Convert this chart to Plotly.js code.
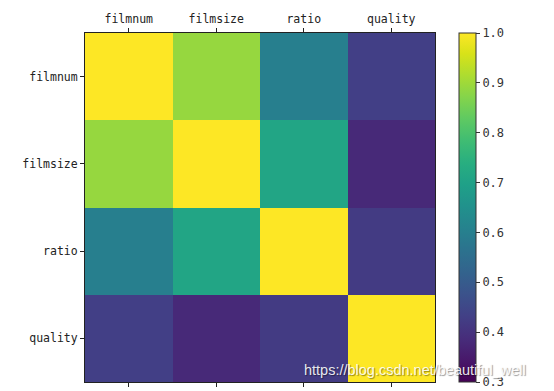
<!DOCTYPE html>
<html>
<head>
<meta charset="utf-8">
<script src="https://cdn.plot.ly/plotly-3.0.1.min.js"></script>
<style>html,body{margin:0;padding:0;background:#fff;}#chart{width:554px;height:391px;}</style>
</head>
<body>
<div id="chart"></div>
<script>
const labels = ["filmnum", "filmsize", "ratio", "quality"];
const rowFilmnum  = [1.00, 0.89, 0.60, 0.43];
const rowFilmsize = [0.89, 1.00, 0.71, 0.38];
const rowRatio    = [0.60, 0.71, 1.00, 0.42];
const rowQuality  = [0.43, 0.38, 0.42, 1.00];
const cbTicks = [0.3, 0.4, 0.5, 0.6, 0.7, 0.8, 0.9, 1.0];

const font = {family: "DejaVu Sans Mono, monospace", size: 11.5, color: "#222"};

const trace = {
  type: "heatmap",
  x: labels,
  y: labels,
  z: [rowFilmnum, rowFilmsize, rowRatio, rowQuality],
  colorscale: "Viridis",
  zmin: 0.3,
  zmax: 1.0,
  hoverinfo: "skip",
  colorbar: {
    x: 1.068, xanchor: "left", xref: "paper",
    y: 0, yanchor: "bottom", len: 1, lenmode: "fraction",
    thickness: 17, thicknessmode: "pixels",
    outlinewidth: 1, outlinecolor: "#333",
    tickvals: cbTicks,
    ticktext: cbTicks.map(v => v.toFixed(1)),
    ticks: "outside", ticklen: 4, tickwidth: 1, tickcolor: "#333",
    tickfont: {family: "DejaVu Sans Mono, monospace", size: 12, color: "#333"},
    xpad: 0, ypad: 0
  }
};

const layout = {
  width: 554, height: 391,
  margin: {l: 85, r: 119, t: 33, b: 9, pad: 0},
  paper_bgcolor: "#fff", plot_bgcolor: "#fff",
  font: font,
  xaxis: {
    side: "top", type: "category",
    showline: true, linecolor: "#222", linewidth: 1, mirror: "allticks",
    ticks: "outside", ticklen: 4, tickcolor: "#222",
    showgrid: false, zeroline: false, fixedrange: true,
    tickfont: font
  },
  yaxis: {
    type: "category", autorange: "reversed",
    showline: true, linecolor: "#222", linewidth: 1, mirror: true,
    ticks: "outside", ticklen: 4, tickcolor: "#222",
    showgrid: false, zeroline: false, fixedrange: true,
    tickfont: font
  },
  annotations: [{
    text: "https://blog.csdn.net/beautiful_well",
    xref: "paper", yref: "paper",
    x: (302 - 85) / 350, y: (382 - 370) / 348,
    xanchor: "left", yanchor: "middle",
    showarrow: false,
    font: {family: "Liberation Sans, Arial, sans-serif", size: 14.5,
           color: "rgba(255,255,255,0.9)",
           shadow: "1px 1px 1px rgba(0,0,0,0.45)"}
  }]
};

Plotly.newPlot("chart", [trace], layout, {displayModeBar: false, staticPlot: true});
</script>
</body>
</html>
